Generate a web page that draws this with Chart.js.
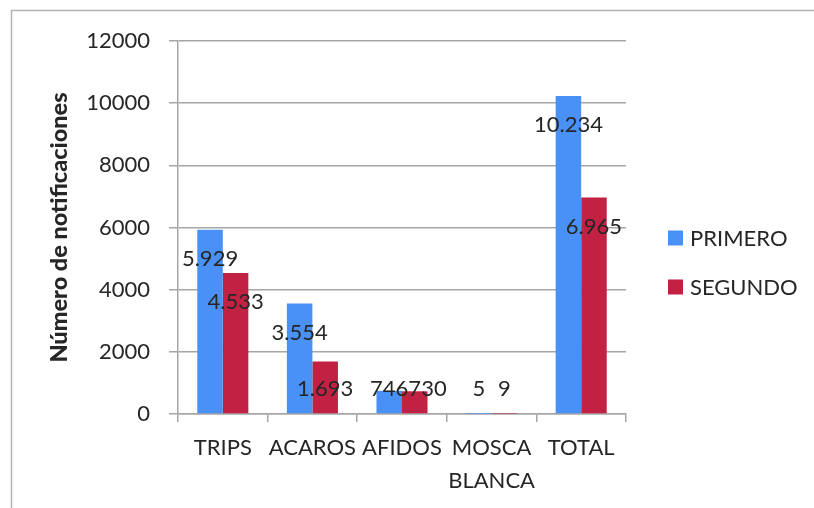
<!DOCTYPE html>
<html>
<head>
<meta charset="utf-8">
<script src="https://cdn.jsdelivr.net/npm/chart.js@4.4.0/dist/chart.umd.min.js"></script>
<style>
  html, body { margin: 0; padding: 0; background: #fff; }
  #wrap { width: 814px; height: 508px; }
</style>
</head>
<body>
<div id="wrap"><canvas id="grafico" width="814" height="508"></canvas></div>
<script>
// plagas notificadas por periodo
var categorias = [["TRIPS"], ["ACAROS"], ["AFIDOS"], ["MOSCA", "BLANCA"], ["TOTAL"]];
var primero = [5929, 3554, 746, 5, 10234];
var segundo = [4533, 1693, 730, 9, 6965];
var series = ["PRIMERO", "SEGUNDO"];
var yTicks = [0, 2000, 4000, 6000, 8000, 10000, 12000];

var azul = "#4a91f6";
var rojo = "#c12142";
var texto = "#262626";
var fuente = "Lato, 'Liberation Sans', sans-serif";

function formato(v) {
  return String(v).replace(/\B(?=(\d{3})+(?!\d))/g, ".");
}

// marco exterior (solo arriba e izquierda se ven)
var marco = {
  id: "marco",
  beforeDraw: function (chart) {
    var c = chart.ctx;
    c.save();
    c.fillStyle = "#fff";
    c.fillRect(0, 0, chart.width, chart.height);
    c.strokeStyle = "#b4b4b4";
    c.lineWidth = 1.5;
    c.beginPath();
    c.moveTo(11.5, chart.height);
    c.lineTo(11.5, 10.5);
    c.lineTo(chart.width, 10.5);
    c.stroke();
    c.restore();
  }
};

// etiquetas de valor cerca del extremo de cada barra
var etiquetas = {
  id: "etiquetas",
  afterDatasetsDraw: function (chart) {
    var c = chart.ctx;
    var area = chart.chartArea;
    c.save();
    c.font = "22px " + fuente;
    c.fillStyle = texto;
    c.textAlign = "center";
    c.textBaseline = "middle";
    var n = chart.data.labels.length;
    for (var i = 0; i < n; i++) {
      var prevRight = null, prevY = null;
      chart.data.datasets.forEach(function (ds, d) {
        var bar = chart.getDatasetMeta(d).data[i];
        var txt = formato(ds.data[i]);
        var w = c.measureText(txt).width;
        var x = bar.x;
        var y = Math.min(bar.y + 29, area.bottom - 25);
        // si se pisa con la etiqueta anterior, se corre a la derecha
        if (prevRight !== null && Math.abs(y - prevY) < 18 && x - w / 2 < prevRight) {
          x = prevRight + w / 2;
        }
        c.fillText(txt, x, y);
        prevRight = x + w / 2;
        prevY = y;
      });
    }
    c.restore();
  }
};

// leyenda a la derecha
var leyenda = {
  id: "leyenda",
  afterDraw: function (chart) {
    var c = chart.ctx;
    c.save();
    c.font = "22px " + fuente;
    c.textBaseline = "middle";
    chart.data.datasets.forEach(function (ds, d) {
      var yc = 238 + d * 49;
      c.fillStyle = ds.backgroundColor;
      c.fillRect(668, yc - 7.5, 15, 15);
      c.fillStyle = texto;
      c.fillText(ds.label, 690, yc + 1);
    });
    c.restore();
  }
};

new Chart(document.getElementById("grafico").getContext("2d"), {
  type: "bar",
  data: {
    labels: categorias,
    datasets: [
      { label: series[0], data: primero, backgroundColor: azul, borderWidth: 0 },
      { label: series[1], data: segundo, backgroundColor: rojo, borderWidth: 0 }
    ]
  },
  options: {
    responsive: false,
    animation: false,
    layout: { padding: { left: 0, top: 41, right: 188, bottom: 0 } },
    datasets: { bar: { barPercentage: 1, categoryPercentage: 0.57 } },
    plugins: {
      legend: { display: false },
      tooltip: { enabled: false }
    },
    scales: {
      x: {
        grid: {
          offset: true,
          drawOnChartArea: false,
          drawTicks: true,
          tickLength: 8,
          color: "#a6a6a6",
          lineWidth: 1.5
        },
        border: { display: true, color: "#a6a6a6", width: 1.5 },
        ticks: {
          autoSkip: false,
          maxRotation: 0,
          color: texto,
          padding: 9,
          font: { family: fuente, size: 22, lineHeight: 1.5 }
        },
        afterFit: function (s) { s.height = 94; }
      },
      y: {
        min: 0,
        max: 12000,
        afterBuildTicks: function (s) {
          s.ticks = yTicks.map(function (v) { return { value: v }; });
        },
        grid: { color: "#a6a6a6", lineWidth: 1.5, tickLength: 9 },
        border: { display: true, color: "#a6a6a6", width: 1.5 },
        ticks: {
          color: texto,
          padding: 19,
          font: { family: fuente, size: 22 },
          callback: function (v) { return String(v); }
        },
        title: {
          display: true,
          text: "Número de notificaciones",
          color: texto,
          font: { family: fuente, size: 23.5, weight: "900" },
          padding: { top: 45, bottom: 0 }
        },
        afterFit: function (s) { s.width = 178; }
      }
    }
  },
  plugins: [marco, etiquetas, leyenda]
});
</script>
</body>
</html>
